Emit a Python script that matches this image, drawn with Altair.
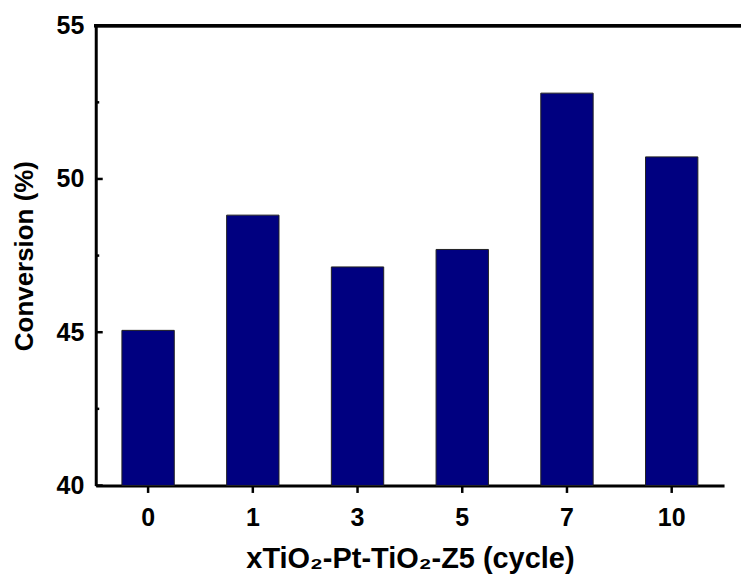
import altair as alt
import pandas as pd

cycles = ["0", "1", "3", "5", "7", "10"]
conversion = [45.06, 48.82, 47.13, 47.70, 52.80, 50.72]
major_ticks = [40, 45, 50, 55]
minor_ticks = [42.5, 47.5, 52.5]

FONT = "Liberation Sans"
W, H = 630, 461

bars_df = pd.DataFrame({"cycle": cycles, "conv": conversion})
major_df = pd.DataFrame({"conv": major_ticks})
minor_df = pd.DataFrame({"conv": minor_ticks})

yscale = alt.Scale(domain=[40, 55], zero=False, nice=False)
yaxis = alt.Axis(title="Conversion (%)", orient="left", values=major_ticks, grid=False, ticks=False,
                 labelFont=FONT, labelFontSize=25, labelFontWeight="bold",
                 labelColor="black", labelPadding=12,
                 titleFont=FONT, titleFontSize=26, titleFontWeight="bold",
                 titleColor="black", titlePadding=19,
                 domainColor="black", domainWidth=3)

bars = alt.Chart(bars_df).mark_bar(color="#000080", stroke="#222222", strokeWidth=1).encode(
    x=alt.X("cycle:N", sort=cycles,
            scale=alt.Scale(paddingInner=0.5, paddingOuter=0.25),
            axis=alt.Axis(title="xTiO₂-Pt-TiO₂-Z5 (cycle)", labelAngle=0, grid=False,
                          labelFont=FONT, labelFontSize=25, labelFontWeight="bold",
                          labelColor="black", labelPadding=13,
                          titleFont=FONT, titleFontSize=29, titleFontWeight="bold",
                          titleColor="black", titlePadding=14,
                          domainColor="black", domainWidth=3,
                          tickColor="black", tickWidth=2.5, tickSize=7)),
    y=alt.Y("conv:Q", scale=yscale, axis=yaxis),
    y2=alt.datum(40),
)

major = alt.Chart(major_df).mark_rule(color="black", strokeWidth=2.5).encode(
    y=alt.Y("conv:Q", scale=yscale, axis=None), x=alt.value(0), x2=alt.value(7)
)
minor = alt.Chart(minor_df).mark_rule(color="black", strokeWidth=2.5).encode(
    y=alt.Y("conv:Q", scale=yscale, axis=None), x=alt.value(0), x2=alt.value(3.5)
)
top = alt.Chart(major_df).mark_rule(color="black", strokeWidth=3).encode(
    x=alt.value(-1.5), x2=alt.value(W + 17), y=alt.value(0), y2=alt.value(0)
)

chart = alt.layer(bars, major, minor, top).resolve_axis(y="independent").properties(
    width=W, height=H,
    padding={"left": 11, "top": 13, "right": 0, "bottom": 0},
).configure_view(strokeWidth=0, strokeOpacity=0).configure_axis(grid=False)

chart.save("out.html", embed_options={"renderer": "svg", "actions": False})
